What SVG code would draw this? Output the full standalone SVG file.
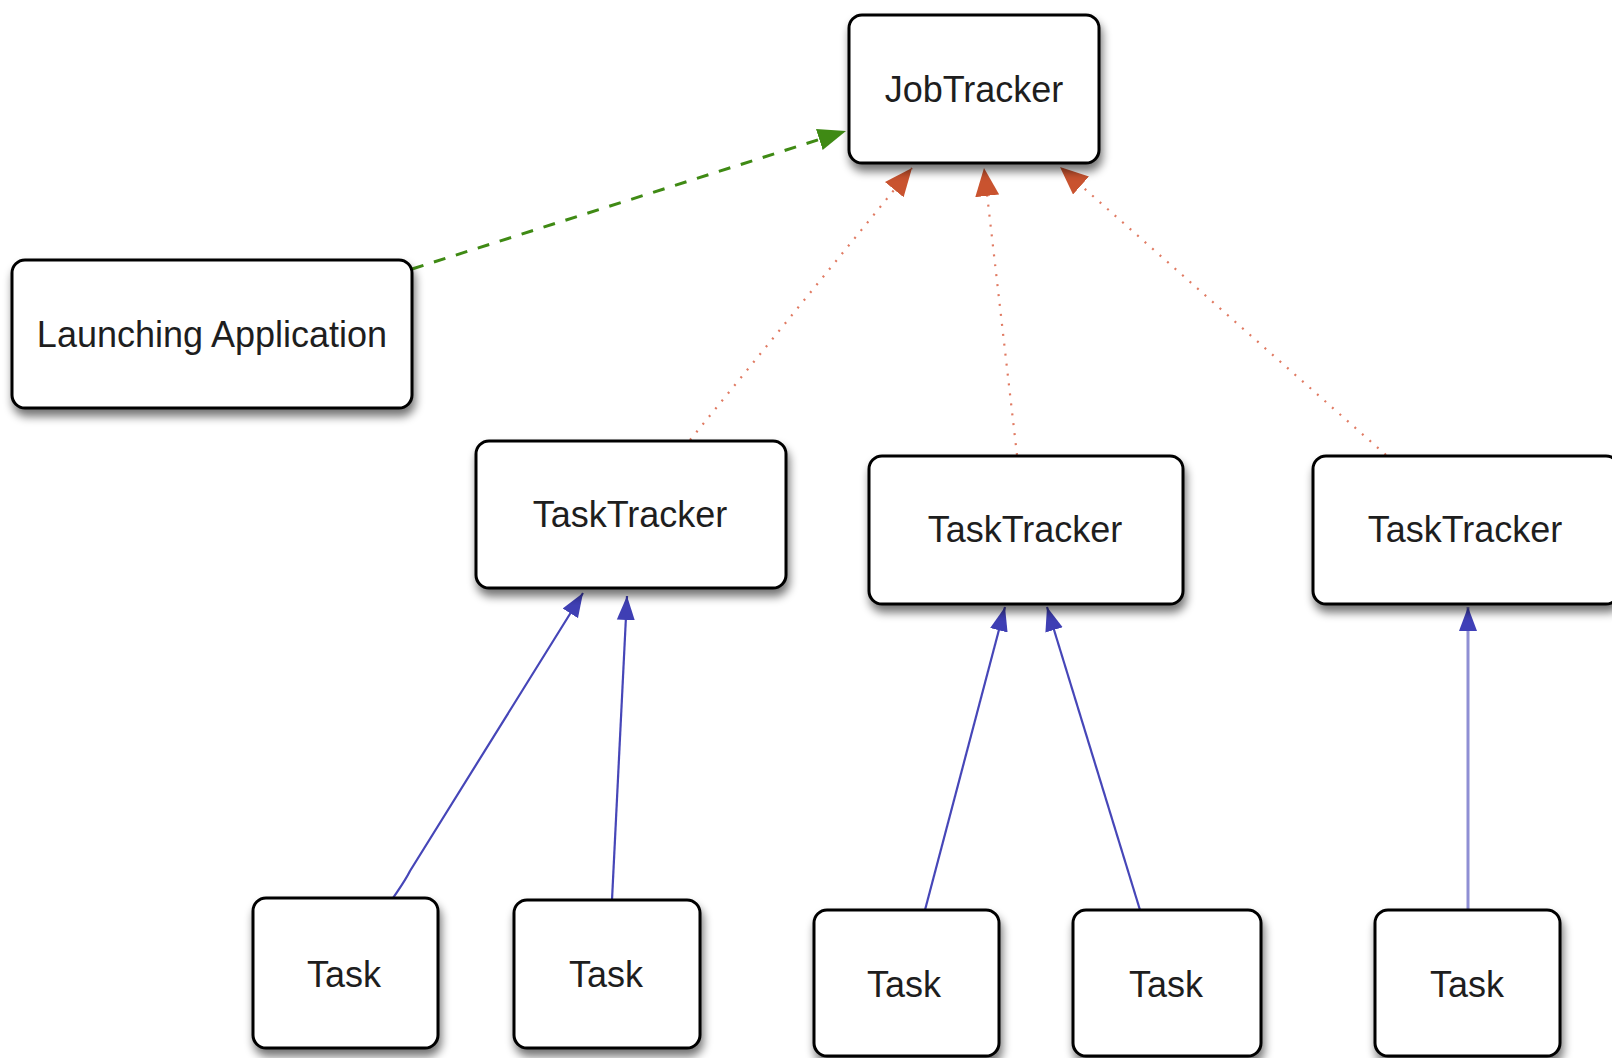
<svg xmlns="http://www.w3.org/2000/svg" width="1612" height="1058" viewBox="0 0 1612 1058">
  <style>
    .box { fill: #ffffff; stroke: #000000; stroke-width: 3; filter: url(#shadow); }
    .label { font-family: "Liberation Sans", Arial, sans-serif; font-size: 36px; fill: #1e1e1e; text-anchor: middle; }
    .submit { fill: none; stroke: #3f8a14; stroke-width: 3; stroke-dasharray: 12 11; }
    .heartbeat { fill: none; stroke: #e07a62; stroke-width: 2.2; stroke-dasharray: 2 8; }
    .report { fill: none; stroke: #4646b8; stroke-width: 2.2; }
    .report-light { fill: none; stroke: #8f8fd4; stroke-width: 3; }
  </style>
  <defs>
    <filter id="shadow" x="-20%" y="-20%" width="140%" height="150%">
      <feGaussianBlur in="SourceAlpha" stdDeviation="5"/>
      <feOffset dx="2" dy="7" result="blur"/>
      <feComponentTransfer><feFuncA type="linear" slope="0.55"/></feComponentTransfer>
      <feMerge><feMergeNode/><feMergeNode in="SourceGraphic"/></feMerge>
    </filter>
    <marker id="arrow-green" markerUnits="userSpaceOnUse" markerWidth="30" markerHeight="22" refX="28" refY="11" orient="auto">
      <path d="M0,0 L28,11 L0,22 Z" fill="#3f8a14"/>
    </marker>
    <marker id="arrow-red" markerUnits="userSpaceOnUse" markerWidth="30" markerHeight="24" refX="28" refY="12" orient="auto">
      <path d="M0,0 L28,12 L0,24 Z" fill="#c9532f"/>
    </marker>
    <marker id="arrow-blue" markerUnits="userSpaceOnUse" markerWidth="26" markerHeight="20" refX="24" refY="10" orient="auto">
      <path d="M0,1 L24,10 L0,19 Z" fill="#3f3fb4"/>
    </marker>
    <marker id="arrow-blue-light" markerUnits="userSpaceOnUse" markerWidth="26" markerHeight="20" refX="24" refY="10" orient="auto">
      <path d="M0,1 L24,10 L0,19 Z" fill="#4040b8"/>
    </marker>
  </defs>

  <!-- connectors -->
  <g id="connectors">
    <path class="submit" d="M412,269 L846,131" marker-end="url(#arrow-green)"/>
    <path class="heartbeat" d="M690,440 L912,168" marker-end="url(#arrow-red)"/>
    <path class="heartbeat" d="M1017,455 L984,168" marker-end="url(#arrow-red)"/>
    <path class="heartbeat" d="M1386,455 L1060,167" marker-end="url(#arrow-red)"/>
    <path class="report" d="M393,898 C399,889 405,881 410,871 L583,593" marker-end="url(#arrow-blue)"/>
    <path class="report" d="M612,900 L627,596" marker-end="url(#arrow-blue)"/>
    <path class="report" d="M925,910 L1005,607" marker-end="url(#arrow-blue)"/>
    <path class="report" d="M1140,910 L1047,607" marker-end="url(#arrow-blue)"/>
    <path class="report-light" d="M1468,910 L1468,607" marker-end="url(#arrow-blue-light)"/>
  </g>

  <g id="job-tracker">
    <rect class="box" x="849" y="15" width="250" height="148" rx="13"/>
    <text class="label" x="974" y="102">JobTracker</text>
  </g>

  <g id="launching-application">
    <rect class="box" x="12" y="260" width="400" height="148" rx="13"/>
    <text class="label" x="212" y="347">Launching Application</text>
  </g>

  <g id="task-tracker-1">
    <rect class="box" x="476" y="441" width="310" height="147" rx="13"/>
    <text class="label" x="630" y="527">TaskTracker</text>
  </g>

  <g id="task-tracker-2">
    <rect class="box" x="869" y="456" width="314" height="148" rx="13"/>
    <text class="label" x="1025" y="542">TaskTracker</text>
  </g>

  <g id="task-tracker-3">
    <rect class="box" x="1313" y="456" width="306" height="148" rx="13"/>
    <text class="label" x="1465" y="542">TaskTracker</text>
  </g>

  <g id="task-1">
    <rect class="box" x="253" y="898" width="185" height="150" rx="13"/>
    <text class="label" x="344" y="987">Task</text>
  </g>

  <g id="task-2">
    <rect class="box" x="514" y="900" width="186" height="148" rx="13"/>
    <text class="label" x="606" y="987">Task</text>
  </g>

  <g id="task-3">
    <rect class="box" x="814" y="910" width="185" height="146" rx="13"/>
    <text class="label" x="904" y="997">Task</text>
  </g>

  <g id="task-4">
    <rect class="box" x="1073" y="910" width="188" height="146" rx="13"/>
    <text class="label" x="1166" y="997">Task</text>
  </g>

  <g id="task-5">
    <rect class="box" x="1375" y="910" width="185" height="146" rx="13"/>
    <text class="label" x="1467" y="997">Task</text>
  </g>
</svg>
